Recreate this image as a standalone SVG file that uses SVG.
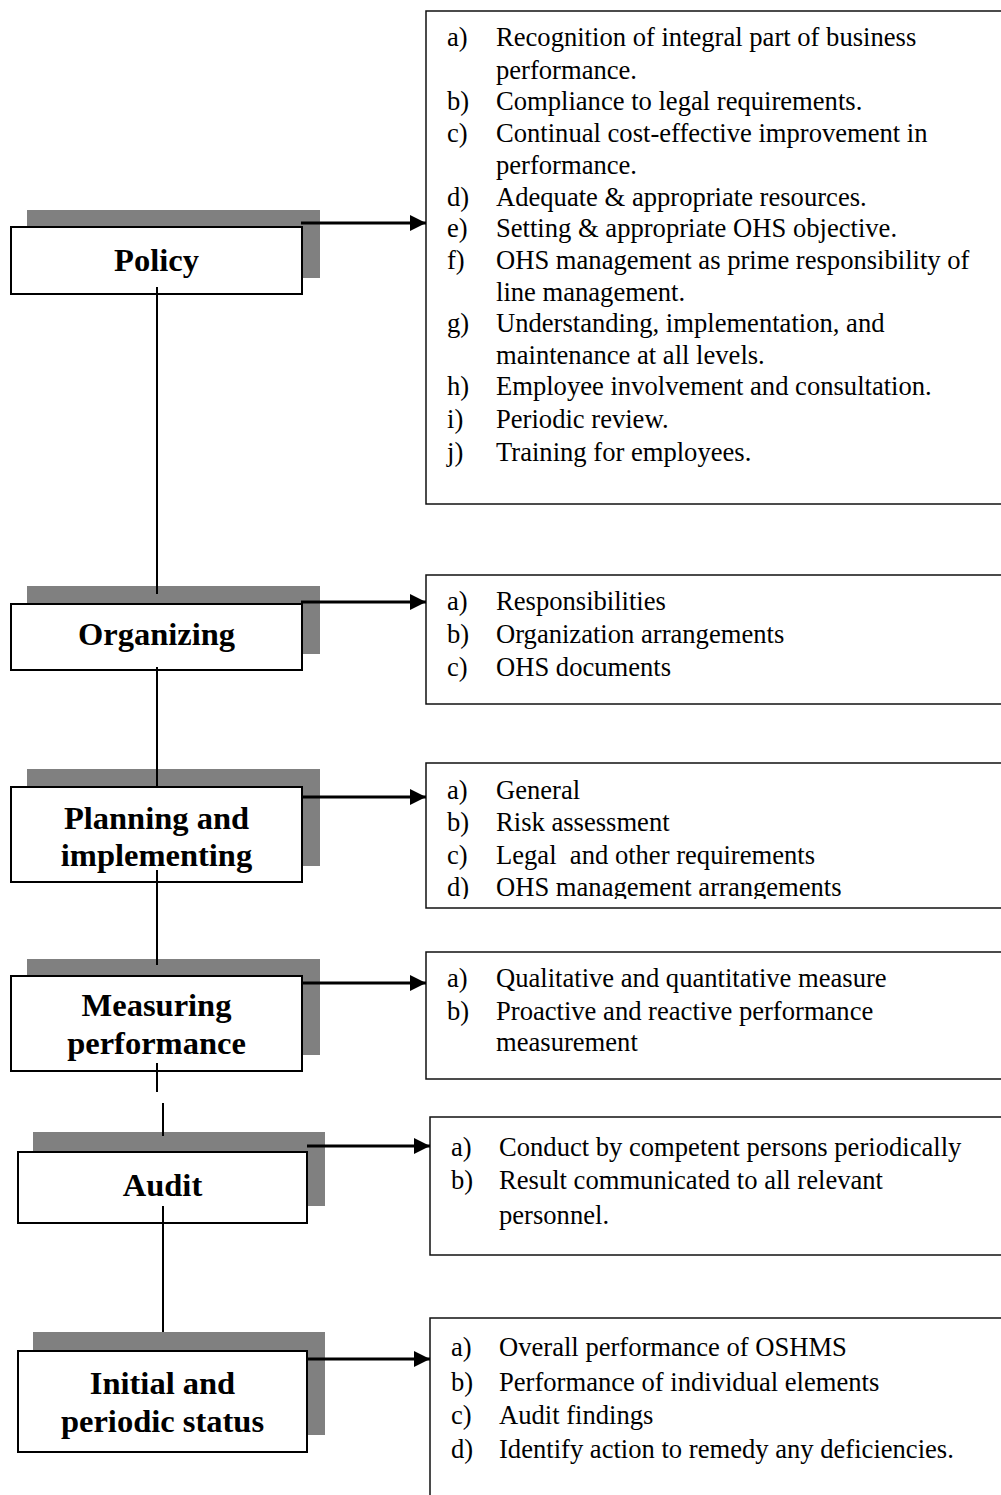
<svg xmlns="http://www.w3.org/2000/svg" width="1001" height="1495" viewBox="0 0 1001 1495">
<style>
.shadow{fill:#808080}
.box{fill:#fff;stroke:#000;stroke-width:2}
.list{fill:#fff;stroke:#111;stroke-width:1.5}
.title{font-family:"Liberation Serif","Times New Roman",serif;font-weight:bold;font-size:32.5px;text-anchor:middle;fill:#000}
.item{font-family:"Liberation Serif","Times New Roman",serif;font-size:26.6px;fill:#000;white-space:pre}
.conn{stroke:#000;stroke-width:2;fill:none}
.arrow{stroke:#000;stroke-width:3;fill:none;marker-end:url(#ah)}
</style>
<defs>
<marker id="ah" markerUnits="userSpaceOnUse" markerWidth="17" markerHeight="17" refX="16" refY="8" orient="auto">
<path d="M0,0 L16,8 L0,16 z" fill="#000"/>
</marker>
<clipPath id="clipPlan"><rect x="426" y="763" width="600" height="136"/></clipPath>
</defs>
<rect width="1001" height="1495" fill="#fff"/>

<g id="node-policy">
<rect class="shadow" x="27" y="210" width="293" height="68"/>
<rect class="box" x="11" y="227" width="291" height="67"/>
<text class="title" x="156.5" y="271">Policy</text>
</g>
<g id="node-organizing">
<rect class="shadow" x="27" y="586" width="293" height="68"/>
<rect class="box" x="11" y="604" width="291" height="66"/>
<text class="title" x="156.5" y="645">Organizing</text>
</g>
<g id="node-planning">
<rect class="shadow" x="27" y="769" width="293" height="97"/>
<rect class="box" x="11" y="787" width="291" height="95"/>
<text class="title" x="156.5" y="829">Planning and</text>
<text class="title" x="156.5" y="866">implementing</text>
</g>
<g id="node-measuring">
<rect class="shadow" x="27" y="959" width="293" height="96"/>
<rect class="box" x="11" y="976" width="291" height="95"/>
<text class="title" x="156.5" y="1016">Measuring</text>
<text class="title" x="156.5" y="1054">performance</text>
</g>
<g id="node-audit">
<rect class="shadow" x="33" y="1132" width="292" height="74"/>
<rect class="box" x="18" y="1152" width="289" height="71"/>
<text class="title" x="162.5" y="1196">Audit</text>
</g>
<g id="node-status">
<rect class="shadow" x="33" y="1332" width="292" height="103"/>
<rect class="box" x="18" y="1351" width="289" height="101"/>
<text class="title" x="162.5" y="1394">Initial and</text>
<text class="title" x="162.5" y="1432">periodic status</text>
</g>

<g id="list-policy">
<rect class="list" x="426" y="11" width="600" height="493"/>
<text class="item" x="447" y="46">a)</text><text class="item" x="496" y="46">Recognition of integral part of business</text>
<text class="item" x="496" y="79">performance.</text>
<text class="item" x="447" y="110">b)</text><text class="item" x="496" y="110">Compliance to legal requirements.</text>
<text class="item" x="447" y="142">c)</text><text class="item" x="496" y="142">Continual cost-effective improvement in</text>
<text class="item" x="496" y="174">performance.</text>
<text class="item" x="447" y="206">d)</text><text class="item" x="496" y="206">Adequate &amp; appropriate resources.</text>
<text class="item" x="447" y="237">e)</text><text class="item" x="496" y="237">Setting &amp; appropriate OHS objective.</text>
<text class="item" x="447" y="269">f)</text><text class="item" x="496" y="269">OHS management as prime responsibility of</text>
<text class="item" x="496" y="301">line management.</text>
<text class="item" x="447" y="332">g)</text><text class="item" x="496" y="332">Understanding, implementation, and</text>
<text class="item" x="496" y="364">maintenance at all levels.</text>
<text class="item" x="447" y="395">h)</text><text class="item" x="496" y="395">Employee involvement and consultation.</text>
<text class="item" x="447" y="428">i)</text><text class="item" x="496" y="428">Periodic review.</text>
<text class="item" x="447" y="461">j)</text><text class="item" x="496" y="461">Training for employees.</text>
</g>
<g id="list-organizing">
<rect class="list" x="426" y="575" width="600" height="129"/>
<text class="item" x="447" y="610">a)</text><text class="item" x="496" y="610">Responsibilities</text>
<text class="item" x="447" y="643">b)</text><text class="item" x="496" y="643">Organization arrangements</text>
<text class="item" x="447" y="676">c)</text><text class="item" x="496" y="676">OHS documents</text>
</g>
<g id="list-planning">
<rect class="list" x="426" y="763" width="600" height="145"/>
<g clip-path="url(#clipPlan)">
<text class="item" x="447" y="799">a)</text><text class="item" x="496" y="799">General</text>
<text class="item" x="447" y="831">b)</text><text class="item" x="496" y="831">Risk assessment</text>
<text class="item" x="447" y="864">c)</text><text class="item" x="496" y="864">Legal  and other requirements</text>
<text class="item" x="447" y="896">d)</text><text class="item" x="496" y="896">OHS management arrangements</text>
</g>
</g>
<g id="list-measuring">
<rect class="list" x="426" y="952" width="600" height="127"/>
<text class="item" x="447" y="987">a)</text><text class="item" x="496" y="987">Qualitative and quantitative measure</text>
<text class="item" x="447" y="1020">b)</text><text class="item" x="496" y="1020">Proactive and reactive performance</text>
<text class="item" x="496" y="1051">measurement</text>
</g>
<g id="list-audit">
<rect class="list" x="430" y="1117" width="600" height="138"/>
<text class="item" x="451" y="1156">a)</text><text class="item" x="499" y="1156">Conduct by competent persons periodically</text>
<text class="item" x="451" y="1189">b)</text><text class="item" x="499" y="1189">Result communicated to all relevant</text>
<text class="item" x="499" y="1224">personnel.</text>
</g>
<g id="list-status">
<rect class="list" x="430" y="1318" width="600" height="200"/>
<text class="item" x="451" y="1356">a)</text><text class="item" x="499" y="1356">Overall performance of OSHMS</text>
<text class="item" x="451" y="1391">b)</text><text class="item" x="499" y="1391">Performance of individual elements</text>
<text class="item" x="451" y="1424">c)</text><text class="item" x="499" y="1424">Audit findings</text>
<text class="item" x="451" y="1458">d)</text><text class="item" x="499" y="1458">Identify action to remedy any deficiencies.</text>
</g>

<g id="connectors">
<line class="conn" x1="157" y1="287" x2="157" y2="594"/>
<line class="conn" x1="157" y1="667" x2="157" y2="786"/>
<line class="conn" x1="157" y1="870" x2="157" y2="965"/>
<line class="conn" x1="157" y1="1063" x2="157" y2="1092"/>
<line class="conn" x1="163" y1="1103" x2="163" y2="1136"/>
<line class="conn" x1="163" y1="1206" x2="163" y2="1332"/>
<line class="arrow" x1="301" y1="223" x2="426" y2="223"/>
<line class="arrow" x1="301" y1="602" x2="426" y2="602"/>
<line class="arrow" x1="302" y1="797" x2="426" y2="797"/>
<line class="arrow" x1="302" y1="983" x2="426" y2="983"/>
<line class="arrow" x1="307" y1="1146" x2="430" y2="1146"/>
<line class="arrow" x1="307" y1="1359" x2="430" y2="1359"/>
</g>
</svg>
